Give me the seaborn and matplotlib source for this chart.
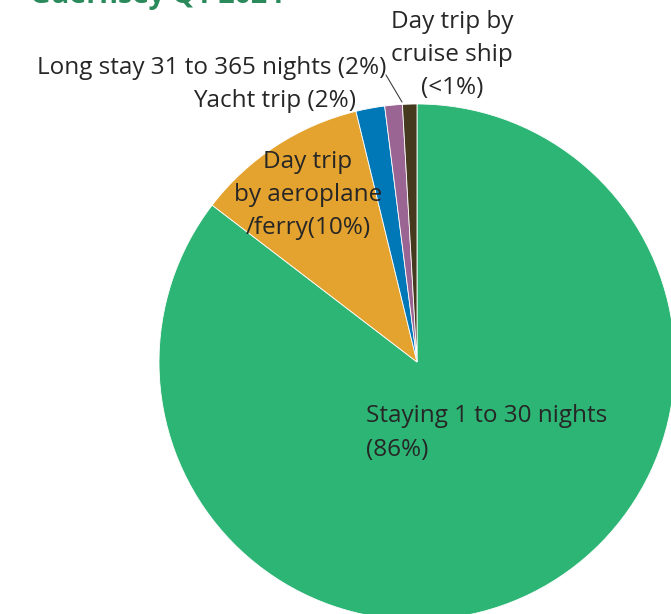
import seaborn as sns
import matplotlib.pyplot as plt

sns.set_style("white")
plt.rcParams['font.family'] = ['Open Sans', 'DejaVu Sans']

# Data
categories = ['Staying 1 to 30 nights', 'Day trip by aeroplane/ferry', 'Yacht trip',
              'Long stay 31 to 365 nights', 'Day trip by cruise ship']
shares = [85.4, 10.8, 1.8, 1.1, 0.9]
colors = ['#2cb574', '#e4a22e', '#0077b6', '#9a6592', '#463a1e']
labels = ['Staying 1 to 30 nights\n(86%)', 'Day trip\nby aeroplane\n/ferry(10%)',
          'Yacht trip (2%)', 'Long stay 31 to 365 nights (2%)', 'Day trip by\ncruise ship\n(<1%)']
title = 'Guernsey Q1 2024'

W, H = 671, 614
cx, cy, r = 417, 362, 258  # pie centre / radius in pixels (from top-left)

fig = plt.figure(figsize=(W / 100, H / 100), dpi=100)
ax = fig.add_axes([0, 0, 1, 1])
ax.pie(shares, colors=colors, startangle=90, counterclock=False, radius=1,
       wedgeprops={'edgecolor': 'white', 'linewidth': 0.6})
ax.set_xlim(-cx / r, (W - cx) / r)
ax.set_ylim(-(H - cy) / r, cy / r)
ax.set_aspect('auto')
ax.axis('off')

def px(x, y):
    return x / W, 1 - y / H

tc = '#262626'
fs = 17.5
ls = 1.5
fig.text(*px(366, 433), labels[0], ha='left', va='center', fontsize=fs, color=tc, linespacing=ls)
fig.text(*px(308, 195), labels[1], ha='center', va='center', fontsize=fs, color=tc, linespacing=ls)
fig.text(*px(356, 101), labels[2], ha='right', va='center', fontsize=fs, color=tc)
fig.text(*px(386, 68), labels[3], ha='right', va='center', fontsize=fs, color=tc)
fig.text(*px(452, 55), labels[4], ha='center', va='center', fontsize=fs, color=tc, linespacing=ls)
ax.annotate('', xy=((402 - cx) / r, (cy - 102) / r), xytext=((386 - cx) / r, (cy - 75) / r),
            arrowprops=dict(arrowstyle='-', color='#404040', lw=0.8, shrinkA=0, shrinkB=0))

# title, clipped at the top edge like the reference
fig.text(*px(30, 3), title, ha='left', va='baseline', fontsize=20.5, fontweight='bold', color='#2a8a5c')

plt.savefig('out.png', dpi=100)
